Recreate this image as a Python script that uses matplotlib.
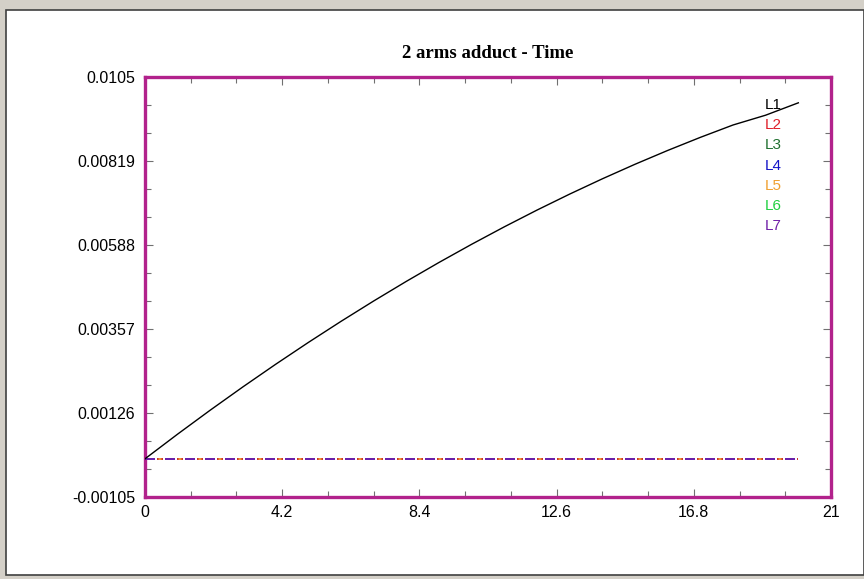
import matplotlib
matplotlib.use("Agg")
import matplotlib.pyplot as plt
from matplotlib.patches import Rectangle
from matplotlib.ticker import MultipleLocator, FixedLocator

plt.rcParams["lines.scale_dashes"] = False

title = "2 arms adduct - Time"
t = [0, 1, 2, 3, 4, 5, 6, 7, 8, 9, 10, 11, 12, 13, 14, 15, 16, 17, 18, 19, 20]
l1 = [0.0, 0.00068, 0.00134, 0.00198, 0.00260, 0.00320, 0.00378, 0.00434,
      0.00488, 0.00540, 0.00590, 0.00638, 0.00684, 0.00728, 0.00770, 0.00810,
      0.00848, 0.00884, 0.00918, 0.00945, 0.00979]
flat_t = [0, 20]
flat_v = [0.0, 0.0]
labels = ["L1", "L2", "L3", "L4", "L5", "L6", "L7"]
colors = ["#000000", "#e0202a", "#207030", "#1414c8", "#f0a030", "#20d040", "#7020a8"]
xticks = [0, 4.2, 8.4, 12.6, 16.8, 21]
xticklabels = ["0", "4.2", "8.4", "12.6", "16.8", "21"]
yticks = [-0.00105, 0.00126, 0.00357, 0.00588, 0.00819, 0.0105]
yticklabels = ["-0.00105", "0.00126", "0.00357", "0.00588", "0.00819", "0.0105"]

W, H = 864, 579
PX = 0.72  # points per pixel at 100 dpi
fig = plt.figure(figsize=(W / 100, H / 100), dpi=100)
fig.patch.set_facecolor("#d4d0c8")

panel = Rectangle((6 / W, 4 / H), (W - 6) / W, (H - 14) / H, transform=fig.transFigure,
                  facecolor="white", edgecolor="#404040", linewidth=1.2, zorder=-10)
fig.patches.append(panel)

ax = fig.add_axes([145 / W, (H - 497) / H, 686 / W, 420 / H])
ax.set_zorder(5)
ax.set_facecolor("white")
ax.set_xlim(0, 21)
ax.set_ylim(-0.00105, 0.0105)

styles = {
    3: (0, (10 * PX, 10 * PX)),            # L4 blue long dash
    6: (0, (10 * PX, 10 * PX)),            # L7 purple long dash
    2: (-12 * PX, (6 * PX, 14 * PX)),      # L3
    5: (-12 * PX, (6 * PX, 14 * PX)),      # L6
    1: (-12 * PX, (6 * PX, 14 * PX)),      # L2 red short dash
    4: (-13.5 * PX, (3 * PX, 17 * PX)),    # L5 orange short dash
}
order = [2, 5, 1, 4, 3, 6]
for k, i in enumerate(order):
    ax.plot(flat_t, flat_v, color=colors[i], lw=1.3, linestyle=styles[i],
            zorder=3 + k * 0.1, solid_capstyle="butt", dash_capstyle="butt")

ax.plot(t, l1, color=colors[0], lw=1.0, zorder=5)

for i, (lab, c) in enumerate(zip(labels, colors)):
    fig.text(765 / W, 1 - (105 + i * 20.2) / H, lab, color=c, fontsize=11,
             family="Liberation Sans", va="center", ha="left", zorder=10)

spine_c = "#b2228c"
for s in ax.spines.values():
    s.set_color(spine_c)
    s.set_linewidth(2.4)

ax.xaxis.set_major_locator(FixedLocator(xticks))
ax.set_xticklabels(xticklabels)
ax.xaxis.set_minor_locator(MultipleLocator(1.4))
ax.yaxis.set_major_locator(FixedLocator(yticks))
ax.set_yticklabels(yticklabels)
ax.yaxis.set_minor_locator(FixedLocator([-0.00105 + k * 0.00077 for k in range(16)]))
ax.tick_params(which="both", direction="in", top=True, right=True, color="#707070",
               labelsize=11.5, width=0.8)
ax.tick_params(which="major", length=6)
ax.tick_params(which="minor", length=4)
ax.tick_params(axis="y", which="major", pad=7)
ax.tick_params(axis="x", which="major", pad=6)
for lab in ax.get_xticklabels() + ax.get_yticklabels():
    lab.set_family("Liberation Sans")

fig.text(488 / W, 1 - 53 / H, title, ha="center", va="center", fontsize=13.5,
         fontweight="bold", family="Liberation Serif")

fig.savefig("out.png", dpi=100, facecolor=fig.get_facecolor())
